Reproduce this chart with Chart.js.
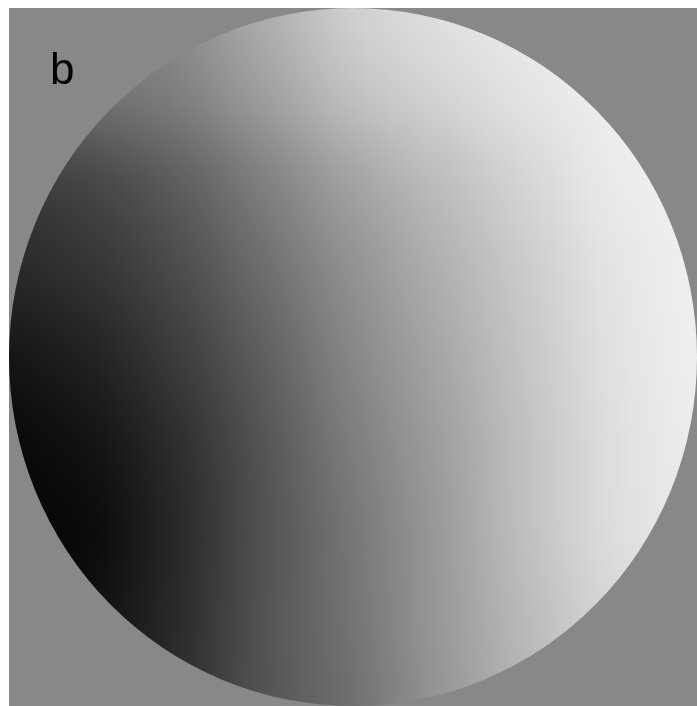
<!DOCTYPE html>
<html>
<head>
<meta charset="utf-8">
<script src="https://cdn.jsdelivr.net/npm/chart.js@4/dist/chart.umd.min.js"></script>
<style>
  html, body { margin: 0; padding: 0; background: #fff; }
  #wrap { position: absolute; left: 9px; top: 8px; width: 688px; height: 698px; }
  #label { position: absolute; left: 50px; top: 47px; font: 44px/44px "Liberation Sans", Arial, sans-serif; color: #000; }
</style>
</head>
<body>
<div id="wrap"><canvas id="chart"></canvas></div>
<div id="label">b</div>
<script>
/* grid of sample positions (data units, circle radius = 1) */
var xCols = [-1, -0.75, -0.5, -0.25, 0, 0.25, 0.5, 0.75, 1];
var yRows = [1, 0.75, 0.5, 0.25, 0, -0.25, -0.5, -0.75, -1];

/* gray level, one row per yRows entry, left to right */
var row0 = [120, 125, 140, 175, 210, 225, 235, 240, 245];
var row1 = [105, 115, 128, 160, 195, 212, 228, 238, 242];
var row2 = [55, 68, 92, 127, 162, 188, 212, 235, 240];
var row3 = [40, 52, 75, 110, 145, 175, 202, 228, 240];
var row4 = [20, 33, 60, 95, 135, 165, 197, 225, 240];
var row5 = [8, 18, 45, 85, 125, 157, 192, 222, 238];
var row6 = [5, 8, 40, 82, 118, 152, 192, 222, 235];
var row7 = [10, 15, 42, 85, 115, 152, 185, 214, 230];
var row8 = [15, 20, 45, 85, 110, 148, 180, 212, 225];
var grayRows = [row0, row1, row2, row3, row4, row5, row6, row7, row8];

var backgroundGray = '#888888';

/* build the cells */
var cells = [];
for (var r = 0; r < yRows.length; r++) {
    for (var c = 0; c < xCols.length; c++) {
	cells.push({x: xCols[c], y: yRows[r], v: grayRows[r][c]});
    }
}

function cellColor(ctx) {
    var p = ctx.raw;
    if (!p) return backgroundGray;
    return 'rgb(' + p.v + ',' + p.v + ',' + p.v + ')';
}

/* side of one cell in pixels, rect point side = radius * sqrt(2) */
function cellRadius(ctx) {
    var area = ctx.chart.chartArea;
    if (!area) return 40;
    var side = (area.right - area.left) / (xCols.length - 1) + 4;
    return side / Math.SQRT2;
}

/* paints the gray field, then smooths the cells inside the disc */
var discPlugin = {
    id: 'disc',
    beforeDraw: function(chart) {
	var ctx = chart.ctx;
	ctx.save();
	ctx.fillStyle = backgroundGray;
	ctx.fillRect(0, 0, chart.width, chart.height);
	ctx.restore();
    },
    afterDatasetsDraw: function(chart) {
	var ctx = chart.ctx;
	var xs = chart.scales.x, ys = chart.scales.y;
	var cx = xs.getPixelForValue(0), cy = ys.getPixelForValue(0);
	var rx = xs.getPixelForValue(1) - cx, ry = cy - ys.getPixelForValue(1);
	var W = chart.canvas.width, H = chart.canvas.height, P = 90;

	/* copy the cells onto a bigger canvas, stretching the edge pixels outwards
	   so the blur does not fade near the border */
	var pad = document.createElement('canvas');
	pad.width = W + 2 * P;
	pad.height = H + 2 * P;
	var pctx = pad.getContext('2d');
	pctx.drawImage(chart.canvas, P, P);
	pctx.drawImage(chart.canvas, 0, 0, 1, H, 0, P, P, H);
	pctx.drawImage(chart.canvas, W - 1, 0, 1, H, P + W, P, P, H);
	pctx.drawImage(pad, 0, P, W + 2 * P, 1, 0, 0, W + 2 * P, P);
	pctx.drawImage(pad, 0, P + H - 1, W + 2 * P, 1, 0, P + H, W + 2 * P, P);

	ctx.save();
	ctx.setTransform(1, 0, 0, 1, 0, 0);
	ctx.fillStyle = backgroundGray;
	ctx.fillRect(0, 0, W, H);
	ctx.beginPath();
	ctx.ellipse(cx, cy, rx, ry, 0, 0, Math.PI * 2);
	ctx.clip();
	ctx.filter = 'blur(34px)';
	ctx.drawImage(pad, -P, -P);
	ctx.restore();
    }
};

var chart = new Chart(document.getElementById('chart'), {
    type: 'scatter',
    data: {
	datasets: [{
	    data: cells,
	    pointStyle: 'rect',
	    pointRadius: cellRadius,
	    pointHoverRadius: cellRadius,
	    pointBorderWidth: 0,
	    pointBackgroundColor: cellColor,
	    pointBorderColor: cellColor,
	    clip: false
	}]
    },
    options: {
	responsive: true,
	maintainAspectRatio: false,
	animation: false,
	events: [],
	layout: {padding: 0, autoPadding: false},
	plugins: {legend: {display: false}, tooltip: {enabled: false}},
	scales: {
	    x: {type: 'linear', min: -1, max: 1, display: false},
	    y: {type: 'linear', min: -1, max: 1, display: false}
	}
    },
    plugins: [discPlugin]
});
</script>
</body>
</html>
